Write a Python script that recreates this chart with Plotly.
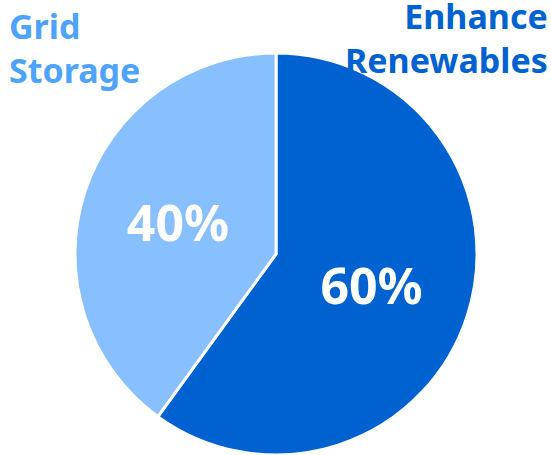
import plotly.graph_objects as go

labels = ["Enhance Renewables", "Grid Storage"]
values = [60, 40]
colors = ["#0062D1", "#88BFFF"]
label_colors = ["#0062D1", "#4DA3FF"]

fig = go.Figure(go.Pie(
    labels=labels,
    values=values,
    sort=False,
    direction="clockwise",
    rotation=0,
    marker=dict(colors=colors, line=dict(color="white", width=3)),
    texttemplate="<b>%{value}%</b>",
    textposition="inside",
    insidetextorientation="horizontal",
    insidetextfont=dict(family="Noto Sans", size=50, color="white"),
    showlegend=False,
    hoverinfo="none",
    domain=dict(x=[75/551, 477/551], y=[0, 402/455]),
))

fig.add_annotation(text="<b>Grid<br>Storage</b>", x=7/551, y=1.0 - 1/455, xref="paper", yref="paper",
                   xanchor="left", yanchor="top", align="left", showarrow=False,
                   font=dict(family="Noto Sans", size=34, color=label_colors[1]))
fig.add_annotation(text="<b>Enhance<br>Renewables</b>", x=550/551, y=1.0 + 9/455, xref="paper", yref="paper",
                   xanchor="right", yanchor="top", align="right", showarrow=False,
                   font=dict(family="Noto Sans", size=34, color=label_colors[0]))

fig.update_layout(width=551, height=455, margin=dict(l=0, r=0, t=0, b=0),
                  paper_bgcolor="white", plot_bgcolor="white")
fig.write_html("out.html")
